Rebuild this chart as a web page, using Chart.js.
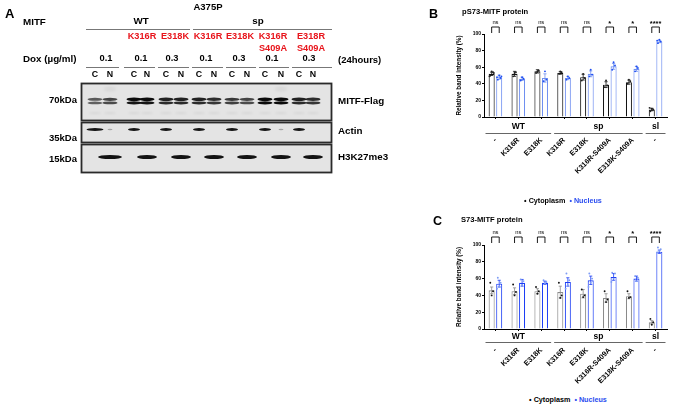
<!DOCTYPE html>
<html><head><meta charset="utf-8">
<script src="https://cdn.jsdelivr.net/npm/chart.js@4.4.1/dist/chart.umd.min.js"></script>
<style>
html,body{margin:0;padding:0;background:#fff;}
body{width:680px;height:407px;position:relative;overflow:hidden;font-family:"Liberation Sans",Arial,sans-serif;}
.t{position:absolute;white-space:nowrap;line-height:1;font-weight:bold;}
.ln{position:absolute;height:0;border-top:1px solid #777;}
canvas{position:absolute;}
</style></head>
<body>
<canvas id="blot" width="430" height="200" style="left:0;top:0;"></canvas>
<canvas id="chartB" width="250" height="185" style="left:430px;top:0;"></canvas>
<canvas id="chartC" width="250" height="185" style="left:430px;top:210px;"></canvas>
<script>
const FAM = '"Liberation Sans", Arial, sans-serif';

// ---------- chart data ----------
const categories = ['-', 'K316R', 'E318K', 'K316R', 'E318K', 'K316R-S409A', 'E318K-S409A', '-'];
const groupLabels = ['WT', 'sp', 'sl'];
const groupStart = [0, 3, 7];
const groupEnd = [2, 6, 7];
const yTicks = [0, 20, 40, 60, 80, 100];
const seriesNames = ['Cytoplasm', 'Nucleus'];

// B: pS73-MITF protein
const pCytoMean = [52, 52, 55, 53, 48, 39, 42, 9];
const pCytoSem  = [2, 3, 2, 1.5, 3.5, 3.5, 2.5, 1.5];
const pCytoPts  = [[50,54,55,49,53],[49,54,53],[53,56,55],[52,54,55],[44,47,52],[36,38,44],[40,43,45],[7,9,10,11]];
const pNucMean  = [48, 46, 47, 47, 52, 61, 58, 91];
const pNucSem   = [2.5, 2, 5, 2, 3.5, 3.5, 3, 1.5];
const pNucPts   = [[45,47,50,48,49],[44,46,48],[43,45,55],[45,47,49],[49,51,57],[57,62,66],[55,59,61],[89,91,93,92]];
const pSig      = ['ns','ns','ns','ns','ns','*','*','****'];

// C: S73-MITF protein
const sCytoMean = [46, 45, 45, 44, 42, 37, 39, 8];
const sCytoSem  = [4, 4, 3, 7, 5, 5, 3, 2];
const sCytoPts  = [[55,45,40],[53,44,40],[50,45,42],[55,40,37],[47,40,38],[45,35,32],[45,38,37],[12,8,5]];
const sNucMean  = [54, 55, 55, 56, 58, 62, 60, 92];
const sNucSem   = [4, 4, 2, 5, 5, 4, 3, 2];
const sNucPts   = [[61,55,50,48],[59,57,52],[58,56,54],[66,58,52,48],[66,60,55,50],[67,66,60,56],[63,61,57],[97,95,93,91]];
const sSig      = ['ns','ns','ns','ns','ns','*','*','****'];

// ---------- blot (panel A) ----------
const laneLabels = ['C','N','C','N','C','N','C','N','C','N','C','N','C','N'];
const mitfLevel  = [0.6,0.7,0.95,0.95,0.85,0.85,0.85,0.8,0.75,0.7,1,1,0.85,0.8];
const actinLevel = [1,0.3,1,0,1,0,1,0,1,0,1,0.3,1,0];
const h3Level    = [0,1,0,1,0,1,0,1,0,1,0,1,0,1];
const laneX      = [95,110,134,147,166,181,199,214,232,247,265,281,299,313];

function txt(s, x, y, o) {
  o = o || {};
  const d = document.createElement('div');
  d.className = 't'; d.textContent = s;
  d.style.fontSize = (o.size || 9) + 'px';
  d.style.color = o.color || '#000';
  if (o.weight) d.style.fontWeight = o.weight;
  d.style.left = x + 'px'; d.style.top = y + 'px';
  const tx = o.align === 'center' ? '-50%' : o.align === 'right' ? '-100%' : '0';
  d.style.transform = 'translate(' + tx + ',-50%)';
  document.body.appendChild(d);
  return d;
}
function hline(x1, x2, y, c) {
  const d = document.createElement('div');
  d.className = 'ln';
  d.style.left = x1 + 'px'; d.style.width = (x2 - x1) + 'px'; d.style.top = y + 'px';
  if (c) d.style.borderTopColor = c;
  document.body.appendChild(d);
}

// panel A texts
txt('A', 5, 13, {size: 13});
txt('A375P', 208, 7, {size: 9.5, align: 'center'});
txt('MITF', 23, 22, {size: 9.8});
txt('WT', 141, 21, {size: 9.8, align: 'center'});
txt('sp', 258, 21, {size: 9.8, align: 'center'});
hline(86, 190, 29);
hline(193, 332, 29);
const RED = '#e8141b';
const mutNames = ['K316R', 'E318K', 'K316R', 'E318K', 'K316R', 'E318R'];
const mutX = [142, 175, 208, 240, 273, 311];
mutNames.forEach((m, i) => txt(m, mutX[i], 37, {size: 9.2, color: RED, align: 'center'}));
txt('S409A', 273, 49, {size: 9.2, color: RED, align: 'center'});
txt('S409A', 311, 49, {size: 9.2, color: RED, align: 'center'});
txt('Dox (\u00b5g/ml)', 23, 59, {size: 9.8});
const doses = ['0.1', '0.1', '0.3', '0.1', '0.3', '0.1', '0.3'];
const doseX = [106, 141, 172, 206, 239, 272, 309];
const doseSpan = [[86,119],[124,155],[158,189],[192,223],[226,256],[259,289],[292,332]];
doses.forEach((d, i) => { txt(d, doseX[i], 59, {size: 9.3, align: 'center'}); hline(doseSpan[i][0], doseSpan[i][1], 67); });
txt('(24hours)', 338, 60, {size: 9.5});
laneLabels.forEach((l, i) => txt(l, laneX[i], 74, {size: 8.8, align: 'center'}));
txt('70kDa', 77, 100, {size: 9.5, align: 'right'});
txt('35kDa', 77, 138, {size: 9.5, align: 'right'});
txt('15kDa', 77, 159, {size: 9.5, align: 'right'});
txt('MITF-Flag', 338, 101, {size: 9.8});
txt('Actin', 338, 131, {size: 9.8});
txt('H3K27me3', 338, 157, {size: 9.8});

(function drawBlot() {
  const c = document.getElementById('blot').getContext('2d');
  function box(y1, y2) {
    c.fillStyle = '#e4e4e4'; c.fillRect(81, y1, 251, y2 - y1);
    c.strokeStyle = '#2a2a2a'; c.lineWidth = 1.8; c.strokeRect(81.5, y1 + 0.5, 250, y2 - y1);
  }
  box(83, 120); box(122, 142); box(144, 172);
  function band(x, y, w, h, a, blur) {
    c.save();
    c.filter = 'blur(' + (blur || 0.7) + 'px)';
    c.fillStyle = 'rgba(10,10,10,' + a + ')';
    c.beginPath();
    c.ellipse(x, y, w / 2, h / 2, 0, 0, Math.PI * 2);
    c.fill();
    c.restore();
  }
  laneX.forEach((x, i) => {
    const a = mitfLevel[i];
    band(x, 99.3, 15, 2.4 + a * 1.2, Math.min(1, a * 1.05), 0.5);
    band(x, 102.9, 15, 2.2 + a * 1.0, Math.min(1, a), 0.5);
    band(x, 113, 12, 1.5, 0.08, 1);
    if (i === 1 || i === 11) band(x, 89, 12, 4, 0.06, 1.5);
    if (actinLevel[i] > 0) {
      const w = actinLevel[i] < 0.5 ? 5 : (i === 0 ? 17 : 12);
      band(x, 129.5, w, actinLevel[i] < 0.5 ? 1.4 : 3, actinLevel[i] * 0.95, 0.5);
    }
    if (h3Level[i] > 0) {
      const w = i === 1 ? 24 : 20;
      band(x, 157, w, 4.2, 0.97, 0.6);
    }
  });
})();

// panel B / C headings
txt('B', 429, 14, {size: 12.5});
txt('C', 433, 221, {size: 12.5});
txt('pS73-MITF protein', 462, 12, {size: 7.6});
txt('S73-MITF protein', 461, 220, {size: 7.6});

function legend(cx, y, cytoColor, nucColor) {
  const d = txt('', cx, y, {size: 7.2, align: 'center'});
  d.innerHTML = '<span style="color:' + cytoColor + '">\u2022</span> ' + seriesNames[0] +
    ' &nbsp;<span style="color:' + nucColor + '">\u2022 ' + seriesNames[1] + '</span>';
}
legend(563, 201, '#000', '#2a4df0');
legend(568, 400, '#000', '#2a4df0');

// ---------- chart plugin: error bars, dots, brackets, groups ----------
const annot = {
  id: 'annot',
  afterDatasetsDraw(chart, args, o) {
    const ctx = chart.ctx, ca = chart.chartArea, x = chart.scales.x, y = chart.scales.y;
    ctx.save();
    chart.data.datasets.forEach((ds, di) => {
      const meta = chart.getDatasetMeta(di);
      meta.data.forEach((bar, i) => {
        const m = ds.data[i], s = ds.sem[i];
        const yt = y.getPixelForValue(m + s), yb = y.getPixelForValue(m - s);
        ctx.strokeStyle = ds.borderColor; ctx.lineWidth = 0.8;
        ctx.beginPath();
        ctx.moveTo(bar.x, yt); ctx.lineTo(bar.x, yb);
        ctx.moveTo(bar.x - 1.6, yt); ctx.lineTo(bar.x + 1.6, yt);
        ctx.moveTo(bar.x - 1.6, yb); ctx.lineTo(bar.x + 1.6, yb);
        ctx.stroke();
        ctx.fillStyle = ds.dotColor;
        ds.pts[i].forEach((v, k) => {
          const dx = o.jitter[k % o.jitter.length];
          ctx.beginPath();
          ctx.arc(bar.x + dx, y.getPixelForValue(v), 0.95, 0, Math.PI * 2);
          ctx.fill();
        });
      });
    });
    const m0 = chart.getDatasetMeta(0), m1 = chart.getDatasetMeta(1);
    ctx.textAlign = 'center'; ctx.textBaseline = 'middle';
    o.sig.forEach((s, i) => {
      const xa = m0.data[i].x, xb = m1.data[i].x;
      const yTop = ca.top - o.brTop, yLeg = ca.top - o.brLeg;
      ctx.strokeStyle = '#000'; ctx.lineWidth = 0.9;
      ctx.beginPath();
      ctx.moveTo(xa, yLeg); ctx.lineTo(xa, yTop); ctx.lineTo(xb, yTop); ctx.lineTo(xb, yLeg);
      ctx.stroke();
      ctx.fillStyle = '#000';
      if (s === 'ns') { ctx.font = '5.8px ' + FAM; ctx.fillText(s, (xa + xb) / 2, ca.top - o.textY); }
      else { ctx.font = 'bold 7.5px ' + FAM; ctx.fillText(s, (xa + xb) / 2, ca.top - o.textY + 2); }
    });
    const cw = x.getPixelForValue(1) - x.getPixelForValue(0);
    groupLabels.forEach((g, j) => {
      const l = x.getPixelForValue(groupStart[j]) - cw / 2 + 1.5;
      const r = x.getPixelForValue(groupEnd[j]) + cw / 2 - 1.5;
      ctx.fillStyle = '#000'; ctx.font = 'bold 8.5px ' + FAM;
      ctx.fillText(g, (l + r) / 2, ca.bottom + o.glY);
      ctx.strokeStyle = '#666'; ctx.lineWidth = 1;
      ctx.beginPath();
      ctx.moveTo(l, Math.round(ca.bottom + o.glLine) + 0.5);
      ctx.lineTo(r, Math.round(ca.bottom + o.glLine) + 0.5);
      ctx.stroke();
    });
    ctx.restore();
  }
};

function makeChart(id, cfg) {
  return new Chart(document.getElementById(id), {
    type: 'bar',
    data: {
      labels: categories,
      datasets: [
        {label: seriesNames[0], data: cfg.cyto, sem: cfg.cytoSem, pts: cfg.cytoPts,
         backgroundColor: '#fff', borderColor: cfg.cytoColor, dotColor: cfg.cytoDot, borderWidth: 1.1,
         barPercentage: 0.8, categoryPercentage: 0.66},
        {label: seriesNames[1], data: cfg.nuc, sem: cfg.nucSem, pts: cfg.nucPts,
         backgroundColor: '#fff', borderColor: cfg.nucColor, dotColor: cfg.nucDot, borderWidth: 1.1,
         barPercentage: 0.8, categoryPercentage: 0.66}
      ]
    },
    options: {
      responsive: false, animation: false, devicePixelRatio: 1,
      layout: {padding: {left: 24, right: 13, top: cfg.padT, bottom: 0}},
      plugins: {
        legend: {display: false}, tooltip: {enabled: false},
        annot: {sig: cfg.sig, jitter: [-1.4, 1.4, 0, -2.2, 2.2], brTop: cfg.brTop, brLeg: cfg.brLeg,
                textY: cfg.textY, glY: cfg.glY, glLine: cfg.glLine}
      },
      scales: {
        x: {
          grid: {display: true, drawOnChartArea: false, offset: false, tickLength: 2, color: '#000', lineWidth: 1},
          border: {color: '#000', width: 1},
          ticks: {autoSkip: false, maxRotation: 45, minRotation: 45, padding: cfg.tickPad, color: '#000',
                  font: {size: 7.3, weight: 'bold', family: FAM}},
          afterFit(s) { s.height = cfg.xH; }
        },
        y: {
          min: 0, max: 100,
          afterBuildTicks(s) { s.ticks = yTicks.map(v => ({value: v})); },
          grid: {display: true, drawOnChartArea: false, tickLength: 2, color: '#000'},
          border: {color: '#000', width: 1},
          ticks: {padding: 1, color: '#000', font: {size: 5, weight: 'bold', family: FAM}},
          title: {display: true, text: 'Relative band intensity (%)', color: '#000', padding: {top: 1, bottom: 0},
                  font: {size: 6.3, weight: 'bold', family: FAM}},
          afterFit(s) { s.width = 30; }
        }
      }
    },
    plugins: [annot]
  });
}

makeChart('chartB', {
  cyto: pCytoMean, cytoSem: pCytoSem, cytoPts: pCytoPts, nuc: pNucMean, nucSem: pNucSem, nucPts: pNucPts,
  sig: pSig, cytoColor: '#111', cytoDot: '#222', nucColor: '#6f8ff0', nucDot: '#1f4ff2',
  padT: 34, xH: 68, tickPad: 17, brTop: 7, brLeg: 1, textY: 12, glY: 10, glLine: 16
});
makeChart('chartC', {
  cyto: sCytoMean, cytoSem: sCytoSem, cytoPts: sCytoPts, nuc: sNucMean, nucSem: sNucSem, nucPts: sNucPts,
  sig: sSig, cytoColor: '#8a8a8a', cytoDot: '#111', nucColor: '#1c3ef5', nucDot: '#7d9cf4',
  padT: 35, xH: 66, tickPad: 15, brTop: 8, brLeg: 2, textY: 13, glY: 8, glLine: 13
});
</script>
</body></html>
